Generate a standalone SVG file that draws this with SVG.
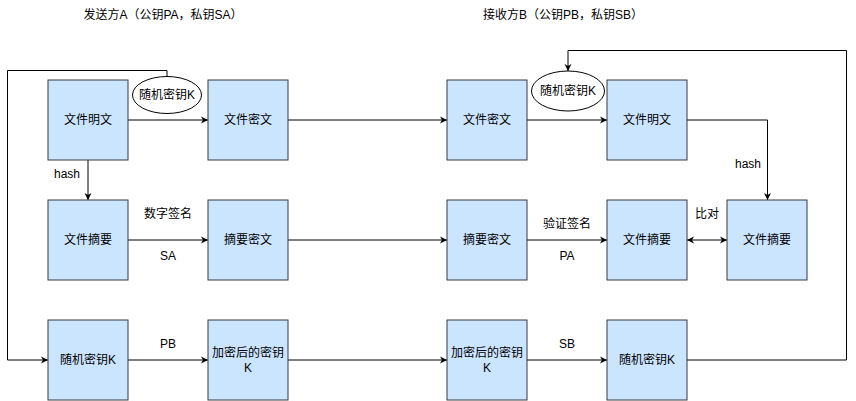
<svg xmlns="http://www.w3.org/2000/svg" width="856" height="401" viewBox="0 0 856 401">
<style>
.box{fill:#cce5ff;stroke:#36393d;stroke-width:1}
.t{font-family:"Liberation Sans","Noto Sans CJK SC",sans-serif;font-size:12px;fill:#000;text-anchor:middle;dominant-baseline:central}
.c{fill:none;stroke:#000;stroke-width:1}
.e{fill:#fff;stroke:#000;stroke-width:1}
</style>
<defs>
<marker id="ah" markerWidth="8" markerHeight="8" refX="7" refY="4" orient="auto" markerUnits="userSpaceOnUse">
<path d="M0,0.5 L7,4 L0,7.5 L2,4 Z" fill="#000"/>
</marker>
<marker id="as" markerWidth="8" markerHeight="8" refX="1" refY="4" orient="auto" markerUnits="userSpaceOnUse">
<path d="M8,0.5 L1,4 L8,7.5 L6,4 Z" fill="#000"/>
</marker>
</defs>
<rect width="856" height="401" fill="#fff"/>
<text class="t" x="163" y="15">发送方A（公钥PA，私钥SA）</text>
<text class="t" x="563" y="15">接收方B（公钥PB，私钥SB）</text>
<g id="connectors">
<path class="c" d="M167,77 V70.5 H7.5 V360 H48" marker-end="url(#ah)"/>
<path class="c" d="M128,120 H208" marker-end="url(#ah)"/>
<path class="c" d="M288,120 H447" marker-end="url(#ah)"/>
<path class="c" d="M527,120 H607" marker-end="url(#ah)"/>
<path class="c" d="M88,160 V200" marker-end="url(#ah)"/>
<path class="c" d="M687,120 H767.5 V200" marker-end="url(#ah)"/>
<path class="c" d="M128,240 H208" marker-end="url(#ah)"/>
<path class="c" d="M288,240 H447" marker-end="url(#ah)"/>
<path class="c" d="M527,240 H607" marker-end="url(#ah)"/>
<path class="c" d="M687,240 H727" marker-start="url(#as)" marker-end="url(#ah)"/>
<path class="c" d="M128,360 H208" marker-end="url(#ah)"/>
<path class="c" d="M288,360 H447" marker-end="url(#ah)"/>
<path class="c" d="M527,360 H607" marker-end="url(#ah)"/>
<path class="c" d="M687,360 H846.5 V50.5 H568 V71" marker-end="url(#ah)"/>
<text class="t" x="67" y="174">hash</text>
<text class="t" x="748" y="164">hash</text>
<text class="t" x="168" y="214">数字签名</text>
<text class="t" x="168" y="256">SA</text>
<text class="t" x="567" y="224">验证签名</text>
<text class="t" x="567" y="256">PA</text>
<text class="t" x="707" y="214">比对</text>
<text class="t" x="168" y="344">PB</text>
<text class="t" x="567" y="344">SB</text>
</g>
<g id="n1"><rect class="box" x="48" y="80" width="80" height="80"/><text class="t" x="88" y="120">文件明文</text></g>
<g id="k1"><ellipse class="e" cx="167" cy="95" rx="34.5" ry="18.5"/><text class="t" x="167" y="95">随机密钥K</text></g>
<g id="n2"><rect class="box" x="208" y="80" width="80" height="80"/><text class="t" x="248" y="120">文件密文</text></g>
<g id="n3"><rect class="box" x="447" y="80" width="80" height="80"/><text class="t" x="487" y="120">文件密文</text></g>
<g id="k2"><ellipse class="e" cx="568" cy="91" rx="36.5" ry="20"/><text class="t" x="568" y="91">随机密钥K</text></g>
<g id="n4"><rect class="box" x="607" y="80" width="80" height="80"/><text class="t" x="647" y="120">文件明文</text></g>
<g id="n5"><rect class="box" x="48" y="200" width="80" height="80"/><text class="t" x="88" y="240">文件摘要</text></g>
<g id="n6"><rect class="box" x="208" y="200" width="80" height="80"/><text class="t" x="248" y="240">摘要密文</text></g>
<g id="n7"><rect class="box" x="447" y="200" width="80" height="80"/><text class="t" x="487" y="240">摘要密文</text></g>
<g id="n8"><rect class="box" x="607" y="200" width="80" height="80"/><text class="t" x="647" y="240">文件摘要</text></g>
<g id="n9"><rect class="box" x="727" y="200" width="80" height="80"/><text class="t" x="767" y="240">文件摘要</text></g>
<g id="n10"><rect class="box" x="48" y="320" width="80" height="80"/><text class="t" x="88" y="360">随机密钥K</text></g>
<g id="n11"><rect class="box" x="208" y="320" width="80" height="80"/><text class="t" x="248" y="353">加密后的密钥</text><text class="t" x="248" y="368">K</text></g>
<g id="n12"><rect class="box" x="447" y="320" width="80" height="80"/><text class="t" x="487" y="353">加密后的密钥</text><text class="t" x="487" y="368">K</text></g>
<g id="n13"><rect class="box" x="607" y="320" width="80" height="80"/><text class="t" x="647" y="360">随机密钥K</text></g>
</svg>
